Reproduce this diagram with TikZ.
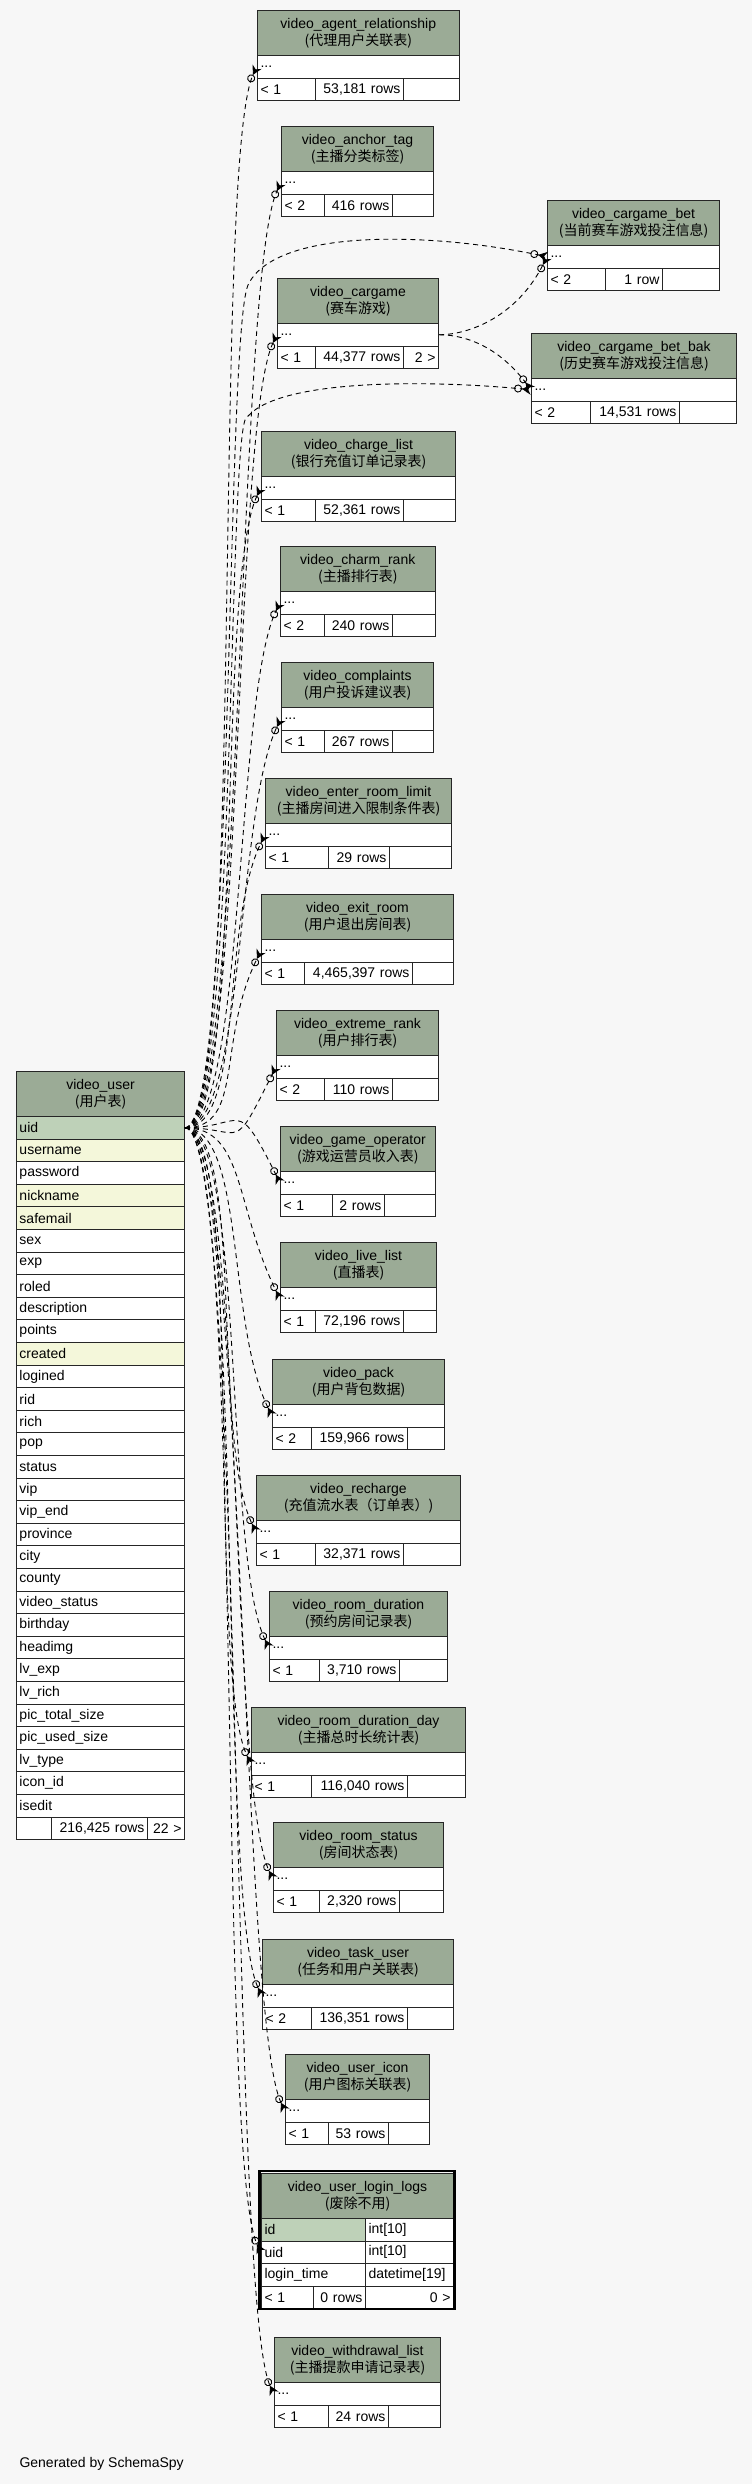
\documentclass[tikz,border=0pt]{standalone}
\usepackage{fontspec}
\setmainfont{Liberation Sans}
\newfontfamily\cjk{Noto Sans CJK SC}
\usetikzlibrary{arrows.meta}
\definecolor{bgcol}{HTML}{F7F7F7}
\definecolor{headfill}{HTML}{9BAB96}
\definecolor{keyfill}{HTML}{BED1B8}
\definecolor{idxfill}{HTML}{F4F7DA}
\tikzset{
  cell/.style={draw=black!85, line width=1pt, fill=white, inner xsep=3pt, inner ysep=0pt,
    minimum height=22.5pt, anchor=north west, font=\fontsize{14pt}{17pt}\selectfont},
  head/.style={cell, fill=headfill, minimum height=45pt, align=center},
  fk/.style={dash pattern=on 5pt off 4pt, line width=0.9pt,
    -{Circle[open,length=8pt,width=8pt]Stealth[reversed,length=9pt,width=10pt]}}
}

\begin{document}
\begin{tikzpicture}[x=1pt,y=-1pt]
  \fill[bgcol] (0,0) rectangle (752,2484);
  \useasboundingbox (0,0) rectangle (752,2484);
  % Vẽ các bảng con
  \foreach \id/\lx/\ty/\rx/\cola/\colb/\nm/\cn/\pa/\nr/\ch in {
    agent/257/10/458.5/314.6/403/video\_agent\_relationship/(代理用户关联表)/< 1/{53,181 rows}/{},
    anchortag/281/126/433/324/392/video\_anchor\_tag/(主播分类标签)/< 2/416 rows/{},
    bet/547/200/719/605/662/video\_cargame\_bet/(当前赛车游戏投注信息)/< 2/1 row/{},
    cargame/277/278/438/315/403/video\_cargame/(赛车游戏)/< 1/{44,377 rows}/2 >,
    betbak/531/333/736/590/679/video\_cargame\_bet\_bak/(历史赛车游戏投注信息)/< 2/{14,531 rows}/{},
    chargelist/261/431/455/315/403/video\_charge\_list/(银行充值订单记录表)/< 1/{52,361 rows}/{},
    charmrank/280/546/434.5/324/392/video\_charm\_rank/(主播排行表)/< 2/240 rows/{},
    complaints/281/662/433/324/392/video\_complaints/(用户投诉建议表)/< 1/267 rows/{},
    enterroom/265/778/451/328/389/video\_enter\_room\_limit/(主播房间进入限制条件表)/< 1/29 rows/{},
    exitroom/261/894/453/304/412/video\_exit\_room/(用户退出房间表)/< 1/{4,465,397 rows}/{},
    extremerank/276/1010/438/324/392/video\_extreme\_rank/(用户排行表)/< 2/110 rows/{},
    gameop/280/1126/434.5/332/384/video\_game\_operator/(游戏运营员收入表)/< 1/2 rows/{},
    livelist/280/1242/436/315/403/video\_live\_list/(直播表)/< 1/{72,196 rows}/{},
    pack/272/1359/444/311/407/video\_pack/(用户背包数据)/< 2/{159,966 rows}/{},
    recharge/256/1475/460/315/403/video\_recharge/(充值流水表（订单表）)/< 1/{32,371 rows}/{},
    roomdur/269/1591/447/319/399/video\_room\_duration/(预约房间记录表)/< 1/{3,710 rows}/{},
    roomdurday/251/1707/465/311/407/video\_room\_duration\_day/(主播总时长统计表)/< 1/{116,040 rows}/{},
    roomstatus/273/1822/443/319/399/video\_room\_status/(房间状态表)/< 1/{2,320 rows}/{},
    taskuser/262/1939/453/311/407/video\_task\_user/(任务和用户关联表)/< 2/{136,351 rows}/{},
    usericon/285/2054/429/328/388/video\_user\_icon/(用户图标关联表)/< 1/53 rows/{},
    withdrawal/274/2337/440/328/388/video\_withdrawal\_list/(主播提款申请记录表)/< 1/24 rows/{}
  }{
    \pgfmathsetmacro\wtot{\rx-\lx-6}
    \pgfmathsetmacro\wpar{\cola-\lx-6}
    \pgfmathsetmacro\wrows{\colb-\cola-6}
    \pgfmathsetmacro\wkids{\rx-\colb-6}
    \node[head, text width=\wtot pt] (\id) at (\lx,\ty) {\nm\\{\cjk\cn}};
    \node[cell, text width=\wtot pt, align=left] (\id-dots) at (\lx,\ty+45) {...};
    \node[cell, text width=\wpar pt, align=left] (\id-par) at (\lx,\ty+67.5) {\pa};
    \node[cell, text width=\wrows pt, align=right] (\id-rows) at (\cola,\ty+67.5) {\nr};
    \node[cell, text width=\wkids pt, align=right] (\id-kids) at (\colb,\ty+67.5) {\ch};
  }
  % Bảng video_user
  \node[head, text width=162pt] (user) at (16,1071) {video\_user\\{\cjk(用户表)}};
  \foreach \f/\txt/\fc [count=\n from 0] in {
    uid/uid/keyfill, username/username/idxfill, password/password/white,
    nickname/nickname/idxfill, safemail/safemail/idxfill, sex/sex/white, exp/exp/white,
    roled/roled/white, description/description/white, points/points/white,
    created/created/idxfill, logined/logined/white, rid/rid/white, rich/rich/white,
    pop/pop/white, status/status/white, vip/vip/white, vipend/vip\_end/white,
    province/province/white, city/city/white, county/county/white,
    videostatus/video\_status/white, birthday/birthday/white, headimg/headimg/white,
    lvexp/lv\_exp/white, lvrich/lv\_rich/white, pictotal/pic\_total\_size/white,
    picused/pic\_used\_size/white, lvtype/lv\_type/white, iconid/icon\_id/white,
    isedit/isedit/white}
    \node[cell, fill=\fc, minimum height=22.6pt, text width=162pt, align=left]
      (user-\f) at (16,1116+22.6*\n) {\txt};
  \node[cell, minimum height=22.6pt, text width=29pt] (user-par) at (16,1816.6) {};
  \node[cell, minimum height=22.6pt, text width=90pt, align=right] (user-rows) at (51,1816.6) {216,425 rows};
  \node[cell, minimum height=22.6pt, text width=31pt, align=right] (user-kids) at (147,1816.6) {22 >};
  % Bảng video_user_login_logs
  \node[head, text width=186pt] (logs) at (261,2173) {video\_user\_login\_logs\\{\cjk(废除不用)}};
  \foreach \f/\txt/\ftype/\fc [count=\n from 0] in {
    id/id/int[10]/keyfill, uid/uid/int[10]/white, time/login\_time/datetime[19]/white}{
    \node[cell, fill=\fc, text width=98pt, align=left] (logs-\f) at (261,2218+22.5*\n) {\txt};
    \node[cell, text width=82pt, align=left] (logs-\f-type) at (365,2218+22.5*\n) {\ftype};
  }
  \node[cell, text width=46pt, align=left] (logs-par) at (261,2285.5) {< 1};
  \node[cell, text width=46pt, align=right] (logs-rows) at (313,2285.5) {0 rows};
  \node[cell, text width=82pt, align=right] (logs-kids) at (365,2285.5) {0 >};
  \draw[line width=2.5pt] (259.5,2171) rectangle (454.5,2309);
  % Vẽ các đường nối
  \foreach \id in {agent, anchortag, cargame, chargelist, charmrank, complaints,
    enterroom, exitroom, extremerank}
    \draw[fk] (user-uid.east) .. controls +(60,0) and +(-45,90) .. (\id-dots.west);
  \foreach \id in {gameop, livelist, pack, recharge, roomdur, roomdurday,
    roomstatus, taskuser, usericon, withdrawal}
    \draw[fk] (user-uid.east) .. controls +(60,0) and +(-45,-90) .. (\id-dots.west);
  \draw[fk] (user-uid.east) .. controls +(60,0) and +(-45,-90) .. (logs-uid.west);
  \draw[fk] (user-uid.east) .. controls (235,1126) and (225,340) .. (248,285)
    .. controls (275,228) and (430,232) .. (bet-dots.west);
  \draw[fk] (user-uid.east) .. controls (235,1126) and (228,470) .. (245,420)
    .. controls (272,378) and (430,380) .. (betbak-dots.west);
  \draw[fk] (cargame-dots.east) .. controls +(30,0) and +(-30,60) .. (bet-dots.west);
  \draw[fk] (cargame-dots.east) .. controls +(30,0) and +(-30,-40) .. (betbak-dots.west);
  \node[anchor=base west, font=\fontsize{14pt}{17pt}\selectfont] (credit) at (16,2467) {Generated by SchemaSpy};
\end{tikzpicture}
\end{document}
